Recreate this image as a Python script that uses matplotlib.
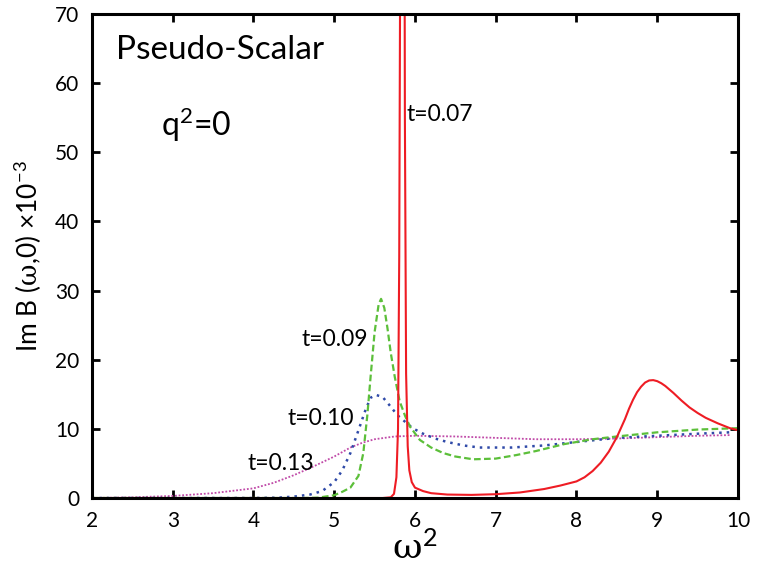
import numpy as np
import matplotlib.pyplot as plt

plt.rcParams['font.family'] = ['Lato', 'DejaVu Sans']
plt.rcParams['mathtext.fontset'] = 'custom'
plt.rcParams['mathtext.rm'] = 'Lato'
plt.rcParams['mathtext.it'] = 'DejaVu Serif'

# t = 0.07 (red solid)
x_t07 = [2.0, 5.0, 5.60, 5.70, 5.74, 5.77, 5.79, 5.805, 5.82, 5.835, 5.85, 5.865,
         5.875, 5.89, 5.91, 5.93, 5.96, 6.0, 6.1, 6.2, 6.4, 6.7, 7.0, 7.3, 7.6,
         7.8, 8.0, 8.1, 8.2, 8.3, 8.4, 8.5, 8.6, 8.65, 8.7, 8.75, 8.8, 8.85, 8.9,
         8.95, 9.0, 9.05, 9.1, 9.2, 9.3, 9.4, 9.5, 9.6, 9.75, 9.9, 10.0]
y_t07 = [0.0, 0.0, 0.0, 0.1, 0.6, 3.0, 10.0, 35.0, 90.0, 200.0, 250.0, 120.0,
         55.0, 18.0, 7.5, 4.0, 2.3, 1.5, 1.0, 0.7, 0.5, 0.45, 0.55, 0.8, 1.3,
         1.8, 2.4, 3.0, 3.9, 5.1, 6.7, 8.8, 11.4, 12.9, 14.2, 15.3, 16.1, 16.7, 17.0,
         17.05, 16.9, 16.6, 16.2, 15.2, 14.1, 13.1, 12.3, 11.6, 10.8, 10.1, 9.8]

# t = 0.09 (green dashed)
x_t09 = [2.0, 4.6, 4.8, 5.0, 5.1, 5.2, 5.3, 5.36, 5.41, 5.45, 5.50, 5.55, 5.58,
         5.62, 5.66, 5.70, 5.75, 5.81, 5.88, 5.94, 6.06, 6.2, 6.35, 6.5, 6.72, 7.0,
         7.25, 7.5, 7.85, 8.2, 8.5, 9.0, 9.5, 10.0]
y_t09 = [0.0, 0.0, 0.05, 0.4, 0.9, 1.5, 3.2, 6.5, 12.0, 17.5, 24.0, 28.0, 28.8,
         27.5, 24.5, 21.0, 17.5, 14.0, 11.8, 10.3, 8.4, 7.3, 6.5, 6.0, 5.6, 5.7,
         6.2, 6.8, 7.8, 8.5, 8.9, 9.5, 9.9, 10.1]

# t = 0.10 (blue dotted)
x_t10 = [2.0, 4.0, 4.3, 4.5, 4.7, 4.85, 5.0, 5.1, 5.2, 5.3, 5.38, 5.45, 5.52,
         5.6, 5.7, 5.78, 5.88, 5.97, 6.1, 6.25, 6.4, 6.6, 6.8, 7.2, 7.6, 8.0,
         8.5, 9.0, 9.5, 9.9]
y_t10 = [0.0, 0.0, 0.05, 0.2, 0.5, 1.0, 2.3, 4.0, 6.5, 9.8, 12.5, 14.5, 14.9,
         14.6, 13.2, 12.0, 11.0, 10.1, 9.3, 8.6, 8.1, 7.6, 7.3, 7.3, 7.6, 8.1,
         8.7, 9.0, 9.3, 9.5]

# t = 0.13 (magenta dotted)
x_t13 = [2.0, 2.5, 3.0, 3.5, 4.0, 4.25, 4.5, 4.75, 5.0, 5.2, 5.35, 5.5, 5.75,
         6.0, 6.5, 7.0, 7.5, 8.0, 8.5, 9.0, 9.5, 9.9]
y_t13 = [0.0, 0.1, 0.3, 0.7, 1.4, 2.2, 3.3, 4.6, 6.0, 7.3, 8.0, 8.5, 8.9,
         9.0, 8.9, 8.7, 8.5, 8.5, 8.6, 8.8, 9.0, 9.1]

x_ticks = [2, 3, 4, 5, 6, 7, 8, 9, 10]
y_ticks = [0, 10, 20, 30, 40, 50, 60, 70]

fig = plt.figure(figsize=(7.59, 5.76), dpi=100)
ax = fig.add_axes([0.1212, 0.1354, 0.8511, 0.8403])

ax.plot(x_t13, y_t13, color='#c04aa8', lw=1.3, linestyle=(0, (1, 1)))
ax.plot(x_t10, y_t10, color='#2f4aa8', lw=1.8, linestyle=(0, (1, 2)))
ax.plot(x_t09, y_t09, color='#5cbf3a', lw=1.6, linestyle=(0, (3, 1.5)))
ax.plot(x_t07, y_t07, color='#ee1c24', lw=1.5)

ax.set_xlim(2, 10)
ax.set_ylim(0, 70)
ax.set_xticks(x_ticks)
ax.set_yticks(y_ticks)
ax.tick_params(direction='in', length=6, width=2, top=True, right=True,
               labelsize=15, pad=9, colors='black')
for s in ax.spines.values():
    s.set_linewidth(2.2)

ax.text(2.3, 63.5, 'Pseudo-Scalar', fontsize=24)
ax.text(2.85, 52.3, r'q$^2$=0', fontsize=23)
ax.text(5.9, 54.5, 't=0.07', fontsize=16.5)
ax.text(4.6, 22.0, 't=0.09', fontsize=16.5)
ax.text(4.42, 10.5, 't=0.10', fontsize=16.5)
ax.text(3.92, 4.0, 't=0.13', fontsize=16.5)

ax.set_xlabel(r'$\omega^2$', fontsize=26, labelpad=0)
ax.set_ylabel(r'Im B ($\omega$,0) $\times$10$^{-3}$', fontsize=19, labelpad=8)

fig.savefig('out.png', dpi=100)
